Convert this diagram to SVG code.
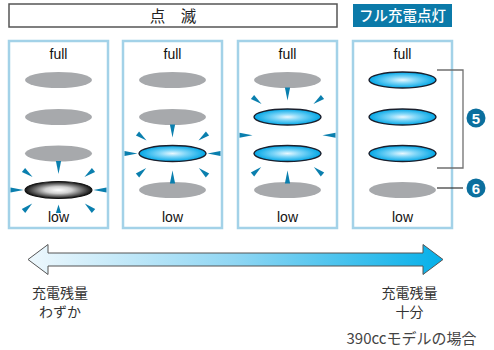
<svg xmlns="http://www.w3.org/2000/svg" xmlns:xlink="http://www.w3.org/1999/xlink" width="494" height="350" viewBox="0 0 494 350">
<style>
.panel{fill:#fff;stroke:#a3d2e8;stroke-width:2.5}
.gray{fill:#a7a9ac}
.lit{fill:url(#gBlue);stroke:#1b1f2c;stroke-width:1.4}
.blk{fill:url(#gBlack);stroke:#111;stroke-width:1.2}
.lbl{font-family:"Liberation Sans",Arial,sans-serif;font-size:14px;fill:#111;text-anchor:middle}
.jp{font-family:"Noto Sans CJK JP","Liberation Sans",sans-serif;fill:#333;text-anchor:middle}
.cap{font-size:14px}
.ray{fill:#0a7fae}
.num{font-family:"Liberation Sans",Arial,sans-serif;font-size:15px;font-weight:bold;fill:#fff;text-anchor:middle}
</style>
<defs>
<radialGradient id="gBlue" cx="0.5" cy="0.5" r="0.5">
<stop offset="0" stop-color="#e8f8ff"/>
<stop offset="0.4" stop-color="#7fd6f8"/>
<stop offset="1" stop-color="#00a6e6"/>
</radialGradient>
<radialGradient id="gBlack" cx="0.5" cy="0.5" r="0.5">
<stop offset="0" stop-color="#ffffff"/>
<stop offset="0.4" stop-color="#d0d0d0"/>
<stop offset="1" stop-color="#111"/>
</radialGradient>
<linearGradient id="gArrow" x1="28" y1="0" x2="443" y2="0" gradientUnits="userSpaceOnUse">
<stop offset="0" stop-color="#eef8fd"/>
<stop offset="0.5" stop-color="#8fd6f3"/>
<stop offset="1" stop-color="#05b0e9"/>
</linearGradient>
<path id="ray" class="ray" d="M-2.6,0 L2.6,0 L0,13 Z"/>
<path id="rayd" class="ray" d="M-2.6,0 L2.6,0 L0,11.5 Z"/>
</defs>

<g id="title-blink">
<rect x="9" y="4" width="328" height="23" fill="#fff" stroke="#555" stroke-width="1.5"/>
<text x="173" y="21.5" class="jp" style="font-size:15.5px;fill:#222">点　滅</text>
</g>
<g id="title-full">
<rect x="353" y="4" width="99" height="23" fill="#0b7aa9"/>
<text x="402.5" y="21" class="jp" style="font-size:14.5px;fill:#fff;font-weight:500">フル充電点灯</text>
</g>

<g id="panel1">
<rect class="panel" x="9" y="41" width="99" height="187"/>
<text class="lbl" x="58.5" y="59">full</text>
<ellipse class="gray" cx="58.5" cy="80" rx="33.5" ry="8"/>
<ellipse class="gray" cx="58.5" cy="117" rx="33.5" ry="8"/>
<ellipse class="gray" cx="58.5" cy="153.5" rx="33.5" ry="8"/>
<ellipse class="blk" cx="58.5" cy="190" rx="33.5" ry="8.5"/>
<use xlink:href="#ray" transform="translate(58.5,161)"/>
<use xlink:href="#ray" transform="translate(58.5,213) rotate(180) scale(1,0.65)"/>
<use xlink:href="#ray" transform="translate(10.5,190) rotate(-90)"/>
<use xlink:href="#ray" transform="translate(106.5,190) rotate(90)"/>
<use xlink:href="#rayd" transform="translate(23.5,170) rotate(-52)"/>
<use xlink:href="#rayd" transform="translate(93.5,170) rotate(52)"/>
<use xlink:href="#rayd" transform="translate(23.5,211) rotate(-131)"/>
<use xlink:href="#rayd" transform="translate(93.5,211) rotate(131)"/>
<text class="lbl" x="58.5" y="222">low</text>
</g>

<g id="panel2">
<rect class="panel" x="123" y="41" width="99" height="187"/>
<text class="lbl" x="172.5" y="59">full</text>
<ellipse class="gray" cx="172.5" cy="80" rx="33.5" ry="8"/>
<ellipse class="gray" cx="172.5" cy="117" rx="33.5" ry="8"/>
<ellipse class="lit" cx="172.5" cy="153.5" rx="33.5" ry="8"/>
<ellipse class="gray" cx="172.5" cy="190" rx="33.5" ry="8"/>
<use xlink:href="#ray" transform="translate(172.5,124.5)"/>
<use xlink:href="#ray" transform="translate(172.5,183.5) rotate(180)"/>
<use xlink:href="#ray" transform="translate(124.5,153.5) rotate(-90)"/>
<use xlink:href="#ray" transform="translate(220.5,153.5) rotate(90)"/>
<use xlink:href="#rayd" transform="translate(137.5,133.5) rotate(-52)"/>
<use xlink:href="#rayd" transform="translate(207.5,133.5) rotate(52)"/>
<use xlink:href="#rayd" transform="translate(137.5,175.5) rotate(-131)"/>
<use xlink:href="#rayd" transform="translate(207.5,175.5) rotate(131)"/>
<text class="lbl" x="172.5" y="222">low</text>
</g>

<g id="panel3">
<rect class="panel" x="238" y="41" width="99" height="187"/>
<text class="lbl" x="287.5" y="59">full</text>
<ellipse class="gray" cx="287.5" cy="80" rx="33.5" ry="8"/>
<ellipse class="lit" cx="287.5" cy="117" rx="33.5" ry="8"/>
<ellipse class="lit" cx="287.5" cy="153.5" rx="33.5" ry="8"/>
<ellipse class="gray" cx="287.5" cy="190" rx="33.5" ry="8"/>
<use xlink:href="#ray" transform="translate(287.5,87.5)"/>
<use xlink:href="#rayd" transform="translate(252.5,97) rotate(-52)"/>
<use xlink:href="#rayd" transform="translate(322.5,97) rotate(52)"/>
<use xlink:href="#ray" transform="translate(239.5,135.25) rotate(-90)"/>
<use xlink:href="#ray" transform="translate(335.5,135.25) rotate(90)"/>
<use xlink:href="#rayd" transform="translate(252.5,174.5) rotate(-131)"/>
<use xlink:href="#rayd" transform="translate(322.5,174.5) rotate(131)"/>
<use xlink:href="#ray" transform="translate(287.5,183.5) rotate(180)"/>
<text class="lbl" x="287.5" y="222">low</text>
</g>

<g id="panel4">
<rect class="panel" x="353" y="41" width="99" height="187"/>
<text class="lbl" x="402.5" y="59">full</text>
<ellipse class="lit" cx="402.5" cy="80" rx="33.5" ry="8"/>
<ellipse class="lit" cx="402.5" cy="117" rx="33.5" ry="8"/>
<ellipse class="lit" cx="402.5" cy="153.5" rx="33.5" ry="8"/>
<ellipse class="gray" cx="402.5" cy="190" rx="33.5" ry="8"/>
<text class="lbl" x="402.5" y="222">low</text>
</g>

<g id="connectors">
<polyline points="437,70 463,70 463,168 437,168" fill="none" stroke="#707070" stroke-width="1.3"/>
<line x1="437" y1="188" x2="463" y2="188" stroke="#333" stroke-width="1.2"/>
</g>

<g id="badge5">
<circle cx="476" cy="118" r="9.5" fill="#0b6f9e"/>
<text class="num" x="476" y="123.5">5</text>
</g>
<g id="badge6">
<circle cx="476" cy="188" r="9.5" fill="#0b6f9e"/>
<text class="num" x="476" y="193.5">6</text>
</g>

<g id="arrow">
<polygon points="28,259.5 48,244.5 48,253 423,253 423,244.5 443,259.5 423,274.5 423,266 48,266 48,274.5" fill="url(#gArrow)" stroke="#555" stroke-width="1"/>
</g>

<g id="labels">
<text class="jp cap" x="60" y="298">充電残量</text>
<text class="jp cap" x="60" y="317">わずか</text>
<text class="jp cap" x="409.5" y="298">充電残量</text>
<text class="jp cap" x="409.5" y="317">十分</text>
<text class="jp" x="411.5" y="344" style="font-size:15px;fill:#444">390ccモデルの場合</text>
</g>
</svg>
